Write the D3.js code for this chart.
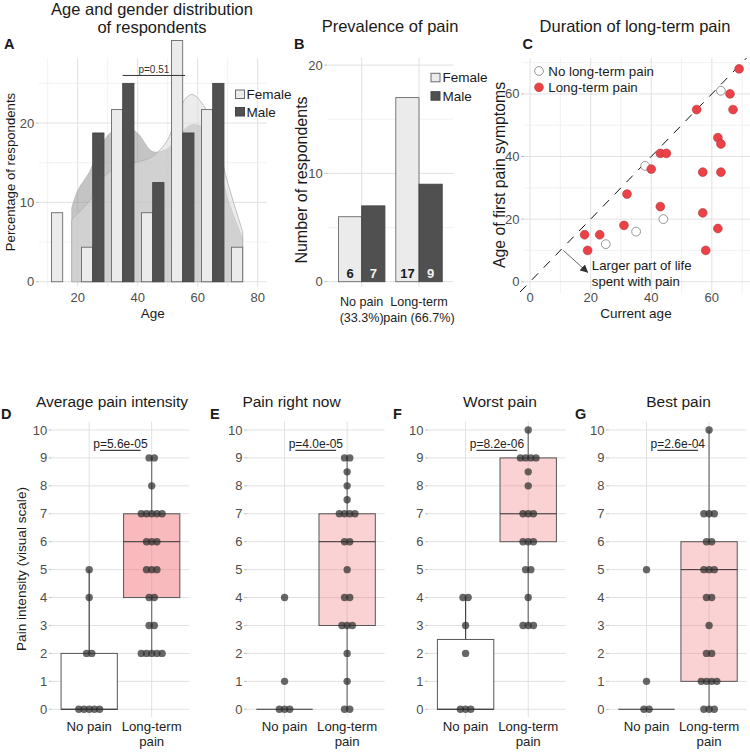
<!DOCTYPE html>
<html><head><meta charset="utf-8">
<script src="https://cdn.jsdelivr.net/npm/d3@7"></script>
<style>body{margin:0;background:#fff}svg{display:block;font-family:"Liberation Sans",Arial,Helvetica,sans-serif}</style>
</head><body><svg id="chart" width="750" height="752"></svg>
<script>
// ---------------- DATA ----------------
// Panel A: age histogram (% of respondents per gender) and density curves
const ageBins = [15, 25, 35, 45, 55, 65, 75];
const femalePct = [8.7, 4.35, 21.7, 8.7, 30.4, 21.7, 4.35];
const malePct = [0, 18.75, 25, 12.5, 18.75, 25, 0];
const densityAges = [18, 20, 24, 28, 32, 36, 40, 45, 50, 54, 58, 62, 66, 70, 75];
const femaleDensity = [7.8, 8.6, 10.2, 12.9, 14.2, 14.8, 15.1, 15.8, 17.9, 22.0, 23.6, 22.2, 18.5, 12.5, 6.3];
const maleDensity = [9.3, 11.5, 13.9, 17.4, 19.1, 19.6, 18.7, 16.4, 16.8, 18.6, 19.8, 19.4, 16.5, 10.5, 5.5];
const ageTicks = [20, 40, 60, 80];
const pctTicks = [0, 10, 20];
const agePLabel = "p=0.51";
const agePRange = [35, 55.8];
const agePLevel = 26;

// Panel B: prevalence of pain
const painGroups = ["No pain", "Long-term pain"];
const painGroupLabels = [["No pain", "(33.3%)"], ["Long-term", "pain (66.7%)"]];
const femaleCounts = [6, 17];
const maleCounts = [7, 9];
const countTicks = [0, 10, 20];

// Panel C: current age vs age of first pain symptoms
const ltCurrentAge   = [69, 66, 67, 55, 62, 63, 43, 45, 40, 57, 63, 32, 43, 57, 31, 62, 18, 23, 19, 58];
const ltFirstPainAge = [68, 60, 55, 55, 46, 44, 41, 41, 36, 35, 35, 28, 24, 22, 18, 17, 15, 15, 10, 10];
const npCurrentAge   = [63, 38, 44, 35, 25];
const npFirstPainAge = [61, 37, 20, 16, 12];
const durationTicks = [0, 20, 40, 60];

// Panels D-G: pain intensity boxplots
const intensityTitles = ["Average pain intensity", "Pain right now", "Worst pain", "Best pain"];
const panelLetters = ["D", "E", "F", "G"];
const pLabels = ["p=5.6e-05", "p=4.0e-05", "p=8.2e-06", "p=2.6e-04"];
// [lower whisker, Q1, median, Q3, upper whisker]
const noPainBox = [[0, 0, 0, 2, 5], [0, 0, 0, 0, 0], [0, 0, 0, 2.5, 4], [0, 0, 0, 0, 0]];
const longTermBox = [[2, 4, 6, 7, 9], [0, 3, 6, 7, 9], [3, 6, 7, 9, 10], [0, 1, 5, 6, 10]];
const noPainScores = [
  [5, 4, 2, 2, 0, 0, 0, 0, 0],
  [4, 1, 0, 0, 0],
  [4, 4, 3, 2, 0, 0, 0],
  [5, 1, 0, 0]
];
const longTermScores = [
  [9, 9, 8, 7, 7, 7, 7, 7, 6, 6, 6, 5, 5, 5, 4, 4, 3, 3, 2, 2, 2, 2, 2],
  [9, 9, 8.5, 8, 7.5, 7, 7, 7, 7, 6, 6, 5, 4, 4, 3, 3, 3, 2, 1, 0, 0],
  [10, 9, 9, 9, 9, 8.5, 8, 7, 7, 7, 6, 6, 6, 5, 5, 4, 3, 3, 3],
  [10, 7, 7, 7, 6, 6, 5, 5, 5, 4, 4, 3, 2, 2, 1, 1, 1, 1, 0, 0, 0]
];
const intensityTicks = [0, 1, 2, 3, 4, 5, 6, 7, 8, 9, 10];
const intensityGroups = ["No pain", "Long-term pain"];
const intensityGroupLabels = [["No pain"], ["Long-term", "pain"]];

// ---------------- HELPERS ----------------
const svg = d3.select("#chart");
const GRID_MAJ = "#dedede", GRID_MIN = "#eeeeee", TICK_TXT = "#4d4d4d", TICK_LN = "#b3b3b3";

function txt(g, x, y, s, o = {}) {
  return g.append("text").attr("x", x).attr("y", y).text(s)
    .attr("font-size", o.size || 13).attr("fill", o.fill || "#1a1a1a")
    .attr("text-anchor", o.anchor || "start")
    .attr("font-weight", o.weight || "normal");
}
function vtxt(g, x, y, s, size) {
  g.append("text").attr("transform", `translate(${x},${y}) rotate(-90)`)
    .attr("text-anchor", "middle").attr("dy", "0.35em")
    .attr("font-size", size).attr("fill", "#1a1a1a").text(s);
}
function hlines(g, vals, y, x0, x1, color, w) {
  g.selectAll(null).data(vals).join("line")
    .attr("x1", x0).attr("x2", x1).attr("y1", d => y(d)).attr("y2", d => y(d))
    .attr("stroke", color).attr("stroke-width", w);
}
function vlines(g, vals, x, y0, y1, color, w) {
  g.selectAll(null).data(vals).join("line")
    .attr("y1", y0).attr("y2", y1).attr("x1", d => x(d)).attr("x2", d => x(d))
    .attr("stroke", color).attr("stroke-width", w);
}
function yTicks(g, vals, y, left, size) {
  g.selectAll(null).data(vals).join("line")
    .attr("x1", left - 3).attr("x2", left).attr("y1", d => y(d)).attr("y2", d => y(d))
    .attr("stroke", TICK_LN).attr("stroke-width", 0.8);
  g.selectAll(null).data(vals).join("text")
    .attr("x", left - 4.5).attr("y", d => y(d)).attr("dy", "0.35em")
    .attr("text-anchor", "end").attr("font-size", size).attr("fill", TICK_TXT)
    .text(d => d);
}

// ---------------- PANEL A ----------------
{
  const g = svg.append("g");
  const x = d3.scaleLinear().domain([7, 83]).range([38.7, 266.7]);
  const y = d3.scaleLinear().domain([-0.6, 28.2]).range([286.5, 58]);
  const [X0, X1] = x.range(), [Y0, Y1] = y.range();
  hlines(g, [5, 15, 25], y, X0, X1, GRID_MIN, 0.8);
  vlines(g, [10, 30, 50, 70], x, Y1, Y0, GRID_MIN, 0.8);
  hlines(g, pctTicks, y, X0, X1, GRID_MAJ, 0.9);
  vlines(g, ageTicks, x, Y1, Y0, GRID_MAJ, 0.9);

  const area = (vals) => d3.area().curve(d3.curveCatmullRom)
    .x((d, i) => x(densityAges[i])).y0(y(0)).y1((d, i) => y(vals[i]))(vals);
  g.append("path").attr("d", area(maleDensity)).attr("fill", "#8a8a8a").attr("fill-opacity", 0.5)
    .attr("stroke", "#a0a0a0").attr("stroke-width", 0.5);
  g.append("path").attr("d", area(femaleDensity)).attr("fill", "#dddddd").attr("fill-opacity", 0.55)
    .attr("stroke", "#b0b0b0").attr("stroke-width", 0.8);

  const bw = 3.75;
  g.selectAll(null).data(ageBins.map((b, i) => ({ b, v: femalePct[i] })).filter(d => d.v > 0)).join("rect")
    .attr("x", d => x(d.b - bw)).attr("width", d => x(d.b) - x(d.b - bw))
    .attr("y", d => y(d.v)).attr("height", d => y(0) - y(d.v))
    .attr("fill", "#ebebeb").attr("stroke", "#6a6a6a").attr("stroke-width", 0.9);
  g.selectAll(null).data(ageBins.map((b, i) => ({ b, v: malePct[i] })).filter(d => d.v > 0)).join("rect")
    .attr("x", d => x(d.b)).attr("width", d => x(d.b + bw) - x(d.b))
    .attr("y", d => y(d.v)).attr("height", d => y(0) - y(d.v))
    .attr("fill", "#505050").attr("stroke", "#444").attr("stroke-width", 0.9);

  g.append("line").attr("x1", x(agePRange[0])).attr("x2", x(agePRange[1]))
    .attr("y1", y(agePLevel)).attr("y2", y(agePLevel)).attr("stroke", "#333").attr("stroke-width", 1);
  txt(g, x((agePRange[0] + agePRange[1]) / 2), y(agePLevel) - 2.5, agePLabel, { size: 10, anchor: "middle", fill: "#333" });

  // legend
  g.append("rect").attr("x", 235.5).attr("y", 90).attr("width", 9).attr("height", 8.5).attr("fill", "#ebebeb").attr("stroke", "#6a6a6a");
  txt(g, 246.5, 98.5, "Female", { size: 13.5 });
  g.append("rect").attr("x", 235.5).attr("y", 107.5).attr("width", 9).attr("height", 8.5).attr("fill", "#505050").attr("stroke", "#444");
  txt(g, 246.5, 116.5, "Male", { size: 13.5 });

  yTicks(g, pctTicks, y, X0, 13);
  g.selectAll(null).data(ageTicks).join("text").attr("x", d => x(d)).attr("y", 301.5)
    .attr("text-anchor", "middle").attr("font-size", 13).attr("fill", TICK_TXT).text(d => d);
  txt(g, 152.7, 318, "Age", { size: 13.5, anchor: "middle" });
  vtxt(g, 10, 172, "Percentage of respondents", 13.2);
  txt(g, 152, 15, "Age and gender distribution", { size: 16.5, anchor: "middle" });
  txt(g, 152, 32.5, "of respondents", { size: 16.5, anchor: "middle" });
  txt(g, 4, 48.5, "A", { size: 14.5, weight: "bold" });
}

// ---------------- PANEL B ----------------
{
  const g = svg.append("g");
  const x = d3.scalePoint().domain(painGroups).range([327.3, 453.4]).padding(0.6);
  const y = d3.scaleLinear().domain([-0.5, 20.7]).range([287.1, 57.5]);
  const [X0, X1] = x.range(), [Y0, Y1] = y.range();
  hlines(g, [5, 15], y, X0, X1, GRID_MIN, 0.8);
  hlines(g, countTicks, y, X0, X1, GRID_MAJ, 0.9);
  vlines(g, painGroups, x, Y1, Y0, GRID_MAJ, 0.9);
  const bw = x.step() * 0.405;
  g.selectAll(null).data(painGroups).join("rect")
    .attr("x", d => x(d) - bw).attr("width", bw)
    .attr("y", (d, i) => y(femaleCounts[i])).attr("height", (d, i) => y(0) - y(femaleCounts[i]))
    .attr("fill", "#ebebeb").attr("stroke", "#6a6a6a").attr("stroke-width", 0.9);
  g.selectAll(null).data(painGroups).join("rect")
    .attr("x", d => x(d)).attr("width", bw)
    .attr("y", (d, i) => y(maleCounts[i])).attr("height", (d, i) => y(0) - y(maleCounts[i]))
    .attr("fill", "#505050").attr("stroke", "#444").attr("stroke-width", 0.9);
  g.selectAll(null).data(painGroups).join("text")
    .attr("x", d => x(d) - bw / 2).attr("y", y(0) - 4).attr("text-anchor", "middle")
    .attr("font-size", 13).attr("font-weight", "bold").attr("fill", "#1a1a1a")
    .text((d, i) => femaleCounts[i]);
  g.selectAll(null).data(painGroups).join("text")
    .attr("x", d => x(d) + bw / 2).attr("y", y(0) - 4).attr("text-anchor", "middle")
    .attr("font-size", 13).attr("font-weight", "bold").attr("fill", "#f2f2f2")
    .text((d, i) => maleCounts[i]);

  g.append("rect").attr("x", 431).attr("y", 73.3).attr("width", 9).attr("height", 8.5).attr("fill", "#ebebeb").attr("stroke", "#6a6a6a");
  txt(g, 442.5, 81.5, "Female", { size: 13.5 });
  g.append("rect").attr("x", 431).attr("y", 91.7).attr("width", 9).attr("height", 8.5).attr("fill", "#505050").attr("stroke", "#444");
  txt(g, 442.5, 100.5, "Male", { size: 13.5 });

  yTicks(g, countTicks, y, X0, 13);
  painGroups.forEach((d, i) => {
    painGroupLabels[i].forEach((l, j) => txt(g, x(d), 306.3 + j * 15.5, l, { size: 12.6, anchor: "middle", fill: "#222" }));
  });
  vtxt(g, 301.5, 180, "Number of respondents", 16);
  txt(g, 390, 32, "Prevalence of pain", { size: 16.5, anchor: "middle" });
  txt(g, 294, 48.5, "B", { size: 14.5, weight: "bold" });
}

// ---------------- PANEL C ----------------
{
  const g = svg.append("g");
  const x = d3.scaleLinear().domain([-2, 72.6]).range([524, 750]);
  const y = d3.scaleLinear().domain([-3.7, 71.5]).range([293.3, 57.9]);
  const [X0, X1] = x.range(), [Y0, Y1] = y.range();
  hlines(g, [10, 30, 50, 70], y, X0, X1, GRID_MIN, 0.8);
  vlines(g, [10, 30, 50, 70], x, Y1, Y0, GRID_MIN, 0.8);
  hlines(g, durationTicks, y, X0, X1, GRID_MAJ, 0.9);
  vlines(g, durationTicks, x, Y1, Y0, GRID_MAJ, 0.9);

  g.append("line").attr("x1", x(-3.3)).attr("y1", y(-3.3)).attr("x2", x(71.5)).attr("y2", y(71.5))
    .attr("stroke", "#111").attr("stroke-width", 1).attr("stroke-dasharray", "9,8");

  const defs = svg.append("defs");
  defs.append("marker").attr("id", "arr").attr("viewBox", "0 0 10 10").attr("refX", 9).attr("refY", 5)
    .attr("markerWidth", 9).attr("markerHeight", 9).attr("orient", "auto-start-reverse")
    .append("path").attr("d", "M0,0 L10,5 L0,10 z").attr("fill", "#333");
  g.append("line").attr("x1", x(11)).attr("y1", y(10)).attr("x2", x(19)).attr("y2", y(3))
    .attr("stroke", "#555").attr("stroke-width", 0.9).attr("marker-end", "url(#arr)");
  txt(g, x(20.4), y(3.6), "Larger part of life", { size: 13.2 });
  txt(g, x(20.4), y(-1.5), "spent with pain", { size: 13.2 });

  g.selectAll(null).data(npCurrentAge).join("circle")
    .attr("cx", d => x(d)).attr("cy", (d, i) => y(npFirstPainAge[i])).attr("r", 4.4)
    .attr("fill", "#fff").attr("stroke", "#8a8a8a").attr("stroke-width", 0.9);
  g.selectAll(null).data(ltCurrentAge).join("circle")
    .attr("cx", d => x(d)).attr("cy", (d, i) => y(ltFirstPainAge[i])).attr("r", 4.4)
    .attr("fill", "#ec4247").attr("stroke", "#a83a3a").attr("stroke-width", 0.6);

  g.append("circle").attr("cx", 539).attr("cy", 71).attr("r", 4.4).attr("fill", "#fff").attr("stroke", "#8a8a8a").attr("stroke-width", 0.9);
  txt(g, 548.3, 75.7, "No long-term pain", { size: 13.3 });
  g.append("circle").attr("cx", 539).attr("cy", 87.3).attr("r", 4.4).attr("fill", "#ec4247").attr("stroke", "#a83a3a").attr("stroke-width", 0.6);
  txt(g, 548.3, 92, "Long-term pain", { size: 13.3 });

  yTicks(g, durationTicks, y, X0, 13);
  g.selectAll(null).data(durationTicks).join("text").attr("x", d => x(d)).attr("y", 301.5)
    .attr("text-anchor", "middle").attr("font-size", 13).attr("fill", TICK_TXT).text(d => d);
  txt(g, 636, 318, "Current age", { size: 13.5, anchor: "middle" });
  vtxt(g, 499, 175, "Age of first pain symptoms", 15.8);
  txt(g, 635, 32, "Duration of long-term pain", { size: 16.5, anchor: "middle" });
  txt(g, 522.5, 48.5, "C", { size: 14.5, weight: "bold" });
}

// ---------------- PANELS D-G ----------------
const bottomLayout = [
  { left: 51.7, right: 189.2, titleX: 112, letterX: 1, fill: "rgba(244,118,124,0.5)" },
  { left: 247, right: 384.7, titleX: 291.5, letterX: 210, fill: "rgba(244,118,124,0.33)" },
  { left: 428, right: 565.8, titleX: 500, letterX: 393, fill: "rgba(244,118,124,0.33)" },
  { left: 609, right: 746.6, titleX: 678.5, letterX: 575, fill: "rgba(244,118,124,0.33)" }
];
const yI = d3.scaleLinear().domain([-0.28, 10.3]).range([717.1, 421.6]);

function swarm(vals, cx) {
  const groups = d3.group(vals, v => v);
  const out = [];
  groups.forEach((arr, v) => {
    const n = arr.length;
    arr.forEach((_, k) => out.push({ v, x: cx + (k - (n - 1) / 2) * 5.2 }));
  });
  return out;
}

bottomLayout.forEach((L, p) => {
  const g = svg.append("g");
  const x = d3.scalePoint().domain(intensityGroups).range([L.left, L.right]).padding(0.6);
  const [Y0, Y1] = yI.range();
  hlines(g, intensityTicks, yI, L.left, L.right, GRID_MAJ, 0.9);
  vlines(g, intensityGroups, x, Y1, Y0, GRID_MAJ, 0.9);
  const bw = x.step() * 0.9;
  const stats = [noPainBox[p], longTermBox[p]];
  const fills = ["#ffffff", L.fill];
  intensityGroups.forEach((grp, i) => {
    const [lw, q1, med, q3, uw] = stats[i];
    const cx = x(grp);
    g.append("line").attr("x1", cx).attr("x2", cx).attr("y1", yI(q3)).attr("y2", yI(uw))
      .attr("stroke", i ? "#6e6e6e" : "#444").attr("stroke-width", 1.2);
    g.append("line").attr("x1", cx).attr("x2", cx).attr("y1", yI(lw)).attr("y2", yI(q1))
      .attr("stroke", i ? "#6e6e6e" : "#444").attr("stroke-width", 1.2);
    g.append("rect").attr("x", cx - bw / 2).attr("width", bw)
      .attr("y", yI(q3)).attr("height", Math.max(0, yI(q1) - yI(q3)))
      .attr("fill", fills[i]).attr("stroke", "#555").attr("stroke-width", 1);
    g.append("line").attr("x1", cx - bw / 2).attr("x2", cx + bw / 2).attr("y1", yI(med)).attr("y2", yI(med))
      .attr("stroke", "#333").attr("stroke-width", 1);
  });
  const scores = [noPainScores[p], longTermScores[p]];
  intensityGroups.forEach((grp, i) => {
    g.selectAll(null).data(swarm(scores[i], x(grp))).join("circle")
      .attr("cx", d => d.x).attr("cy", d => yI(d.v)).attr("r", 3.7)
      .attr("fill", "#2e2e2e").attr("fill-opacity", 0.72);
  });
  // significance
  const x1 = x(intensityGroups[0]) + 10.8, x2 = x(intensityGroups[1]) - 11;
  g.append("line").attr("x1", x1).attr("x2", x2).attr("y1", 450.3).attr("y2", 450.3).attr("stroke", "#111").attr("stroke-width", 1);
  txt(g, (x(intensityGroups[0]) + x(intensityGroups[1])) / 2, 447.6, pLabels[p], { size: 12, anchor: "middle", fill: "#222" });

  yTicks(g, intensityTicks, yI, L.left, 13);
  intensityGroups.forEach((grp, i) => {
    intensityGroupLabels[i].forEach((l, j) => txt(g, x(grp), 731.3 + j * 15, l, { size: 13.2, anchor: "middle", fill: "#222" }));
  });
  txt(g, L.titleX, 406.5, intensityTitles[p], { size: 15.5, anchor: "middle" });
  txt(g, L.letterX, 418.5, panelLetters[p], { size: 14.5, weight: "bold" });
  if (p === 0) vtxt(g, 21.7, 569, "Pain intensity (visual scale)", 13.6);
});
</script></body></html>
